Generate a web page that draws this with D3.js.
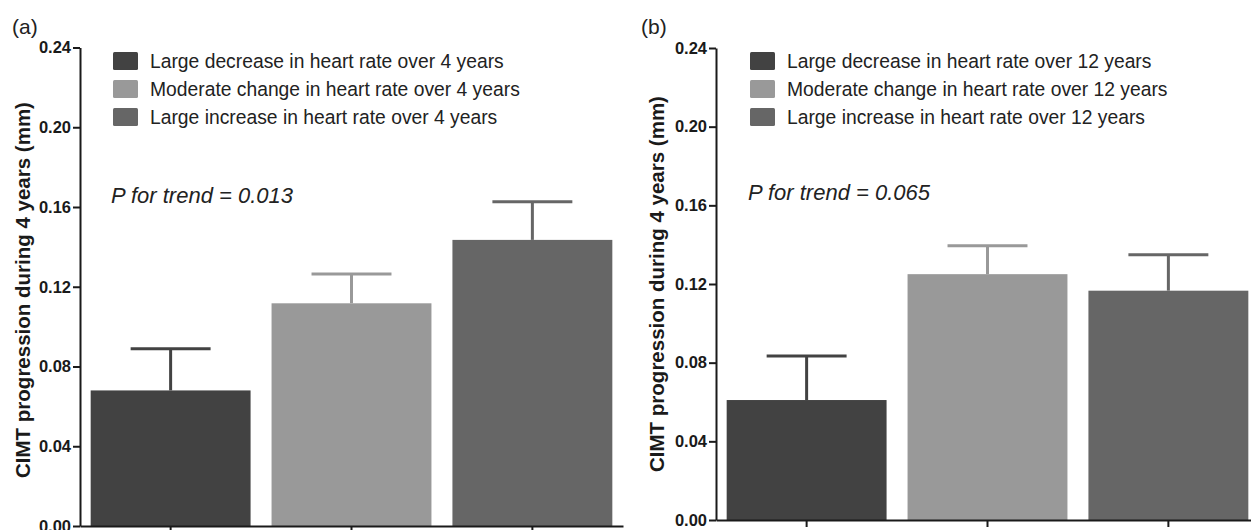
<!DOCTYPE html>
<html>
<head>
<meta charset="utf-8">
<script src="https://cdn.jsdelivr.net/npm/d3@7"></script>
<style>
  body { margin: 0; background: #fff; }
  svg { display: block; font-family: "Liberation Sans", Arial, sans-serif; }
  .axis path, .axis line { stroke: #1a1a1a; stroke-width: 2px; }
  .axis text { font-size: 16.5px; font-weight: bold; fill: #1a1a1a; }
</style>
</head>
<body>
<div id="chart"></div>
<script>
// groups (x categories) and colours
var groups = ["decrease", "moderate", "increase"];
var colours = ["#424242", "#999999", "#666666"];

// panel (a): 4-year heart rate change
var meansA = [0.068, 0.1117, 0.1435];
var semA = [0.0209, 0.0147, 0.0191];
var legendA = ["Large decrease in heart rate over 4 years",
               "Moderate change in heart rate over 4 years",
               "Large increase in heart rate over 4 years"];

// panel (b): 12-year heart rate change
var meansB = [0.061, 0.125, 0.1166];
var semB = [0.0224, 0.0145, 0.0183];
var legendB = ["Large decrease in heart rate over 12 years",
               "Moderate change in heart rate over 12 years",
               "Large increase in heart rate over 12 years"];

var yTicks = [0, 0.04, 0.08, 0.12, 0.16, 0.20, 0.24];
var yLabel = "CIMT progression during 4 years (mm)";

var svg = d3.select("#chart").append("svg")
    .attr("width", 1251)
    .attr("height", 530);

function drawPanel(opt) {
    var g = svg.append("g");

    var y = d3.scaleLinear()
        .domain([0, 0.24])
        .range([opt.bottom, opt.top]);

    var x = d3.scaleBand()
        .domain(groups)
        .range([opt.left, opt.left + 543])
        .paddingInner(0.116)
        .paddingOuter(0.059);

    // bars
    g.selectAll(".bar")
        .data(opt.means)
        .enter().append("rect")
        .attr("class", "bar")
        .attr("x", function(d, i) { return x(groups[i]); })
        .attr("y", function(d) { return y(d); })
        .attr("width", x.bandwidth())
        .attr("height", function(d) { return y(0) - y(d); })
        .attr("fill", function(d, i) { return colours[i]; });

    // error bars (upper only)
    var err = g.selectAll(".err")
        .data(opt.means)
        .enter().append("g")
        .attr("class", "err")
        .attr("stroke", function(d, i) { return colours[i]; })
        .attr("stroke-width", 3);

    err.append("line")
        .attr("x1", function(d, i) { return x(groups[i]) + x.bandwidth() / 2; })
        .attr("x2", function(d, i) { return x(groups[i]) + x.bandwidth() / 2; })
        .attr("y1", function(d) { return y(d); })
        .attr("y2", function(d, i) { return y(d + opt.sem[i]); });

    err.append("line")
        .attr("x1", function(d, i) { return x(groups[i]) + x.bandwidth() / 4; })
        .attr("x2", function(d, i) { return x(groups[i]) + x.bandwidth() * 3 / 4; })
        .attr("y1", function(d, i) { return y(d + opt.sem[i]); })
        .attr("y2", function(d, i) { return y(d + opt.sem[i]); });

    // axes
    g.append("g")
        .attr("class", "axis")
        .attr("transform", "translate(" + opt.left + ",0)")
        .call(d3.axisLeft(y).tickValues(yTicks).tickFormat(d3.format(".2f"))
            .tickSize(7).tickSizeOuter(0).tickPadding(2));

    g.append("g")
        .attr("class", "axis")
        .attr("transform", "translate(0," + opt.bottom + ")")
        .call(d3.axisBottom(x).tickFormat("").tickSize(7).tickSizeOuter(0));

    // y label
    g.append("text")
        .attr("transform", "translate(" + opt.labelX + "," + opt.labelY + ") rotate(-90)")
        .attr("text-anchor", "middle")
        .attr("dy", "0.35em")
        .style("font-size", "20.5px")
        .style("font-weight", "bold")
        .style("fill", "#1a1a1a")
        .text(yLabel);

    // panel tag
    g.append("text")
        .attr("x", opt.tagX).attr("y", 34)
        .style("font-size", "21px")
        .style("fill", "#222")
        .text(opt.tag);

    // legend
    var leg = g.selectAll(".legend")
        .data(opt.legend)
        .enter().append("g")
        .attr("class", "legend")
        .attr("transform", function(d, i) { return "translate(" + opt.legendX + "," + (52 + i * 28) + ")"; });

    leg.append("rect")
        .attr("width", 25).attr("height", 18)
        .attr("rx", 1.5)
        .attr("fill", function(d, i) { return colours[i]; });

    leg.append("text")
        .attr("x", 37).attr("y", 9)
        .attr("dy", "0.36em")
        .style("font-size", "19.3px")
        .style("fill", "#222")
        .text(function(d) { return d; });

    // trend p-value
    g.append("text")
        .attr("x", opt.legendX - 2).attr("y", opt.pY)
        .style("font-size", "22px")
        .style("font-style", "italic")
        .style("fill", "#222")
        .text(opt.pText);
}

drawPanel({
    left: 80, top: 47.5, bottom: 526, labelX: 23, labelY: 290, tagX: 12,
    legendX: 113, pY: 203, tag: "(a)",
    means: meansA, sem: semA, legend: legendA,
    pText: "P for trend = 0.013"
});

drawPanel({
    left: 716, top: 48, bottom: 520, labelX: 657, labelY: 284, tagX: 641,
    legendX: 750, pY: 200, tag: "(b)",
    means: meansB, sem: semB, legend: legendB,
    pText: "P for trend = 0.065"
});
</script>
</body>
</html>
